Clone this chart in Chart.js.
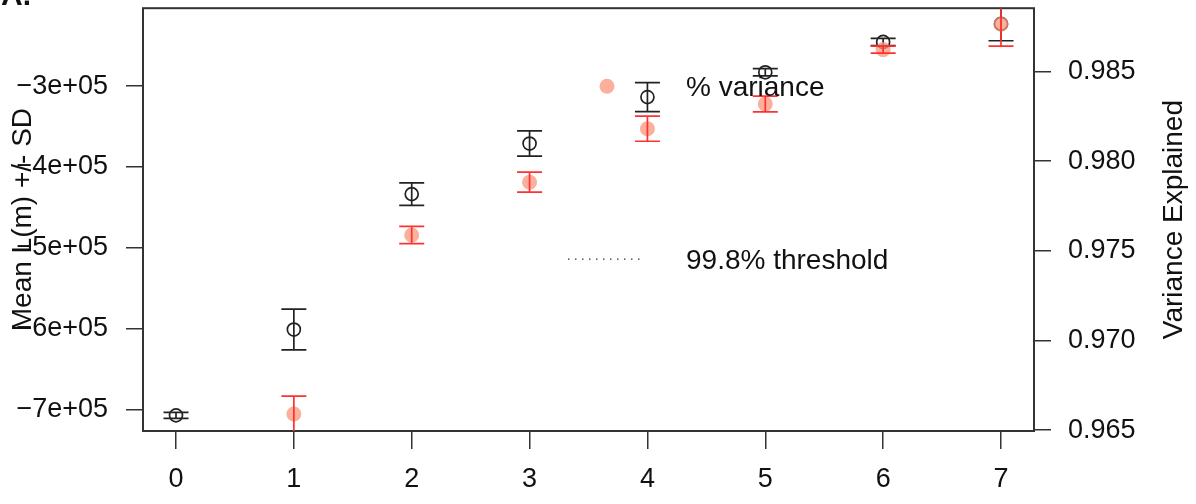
<!DOCTYPE html>
<html>
<head>
<meta charset="utf-8">
<script src="https://cdn.jsdelivr.net/npm/chart.js@4/dist/chart.umd.min.js"></script>
<style>
  html, body { margin: 0; padding: 0; background: #fff; }
</style>
</head>
<body>
<canvas id="chart" width="1196" height="504"></canvas>
<script>
// Données
const components = [0, 1, 2, 3, 4, 5, 6, 7];
const meanL = [-707400, -601200, -433600, -371000, -313500, -282800, -245300, -222900];
const sdL = [3700, 25200, 13900, 15600, 18000, 4500, 4500, 20900];
const varExplained = [null, 0.96590, 0.97588, 0.97883, 0.98181, 0.98319, 0.98622, 0.98764];
const sdVar = [null, 0.00100, 0.00048, 0.00056, 0.00070, 0.00044, 0.00020, 0.00122];

const xTicks = [0, 1, 2, 3, 4, 5, 6, 7];
const leftTicks = [-700000, -600000, -500000, -400000, -300000];
const leftTickLabels = ['\u22127e+05', '\u22126e+05', '\u22125e+05', '\u22124e+05', '\u22123e+05'];
const rightTicks = [0.965, 0.970, 0.975, 0.980, 0.985];
const rightTickLabels = ['0.965', '0.970', '0.975', '0.980', '0.985'];

const FONT = "'Liberation Sans', Arial, sans-serif";
const INK = '#222';
const RED_BAR = '#ff3030';
const RED_DOT = 'rgba(248,150,120,0.75)';

// Barres d'erreur dessinées avec les échelles du graphique
function drawErrorBars(chart, ys, sds, axisId, color) {
    const ctx = chart.ctx;
    const xScale = chart.scales.x;
    const yScale = chart.scales[axisId];
    const area = chart.chartArea;
    const cap = 12.5;
    ctx.save();
    ctx.beginPath();
    ctx.rect(area.left, area.top, area.right - area.left, area.bottom - area.top);
    ctx.clip();
    ctx.strokeStyle = color;
    ctx.lineWidth = 1.7;
    components.forEach((c, i) => {
        if (ys[i] === null) return;
        const px = xScale.getPixelForValue(c);
        const top = yScale.getPixelForValue(ys[i] + sds[i]);
        const bot = yScale.getPixelForValue(ys[i] - sds[i]);
        ctx.beginPath();
        ctx.moveTo(px, top); ctx.lineTo(px, bot);
        ctx.moveTo(px - cap, top); ctx.lineTo(px + cap, top);
        ctx.moveTo(px - cap, bot); ctx.lineTo(px + cap, bot);
        ctx.stroke();
    });
    ctx.restore();
}

const rStylePlugin = {
    id: 'rStyle',
    beforeDatasetsDraw(chart) {
        const ctx = chart.ctx;
        const a = chart.chartArea;
        ctx.save();
        ctx.strokeStyle = '#333';
        ctx.lineWidth = 2;
        ctx.strokeRect(a.left, a.top, a.right - a.left, a.bottom - a.top);
        ctx.restore();
    },
    afterDatasetDraw(chart, args) {
        if (args.meta.yAxisID === 'y') {
            drawErrorBars(chart, meanL, sdL, 'y', INK);
        } else {
            drawErrorBars(chart, varExplained, sdVar, 'y1', RED_BAR);
        }
    },
    afterDraw(chart) {
        const ctx = chart.ctx;
        const a = chart.chartArea;
        ctx.save();
        ctx.fillStyle = '#111';

        // Titre de l'axe droit (lu de bas en haut, comme R)
        ctx.font = '28px ' + FONT;
        ctx.textAlign = 'center';
        ctx.textBaseline = 'middle';
        ctx.translate(1174, (a.top + a.bottom) / 2);
        ctx.rotate(-Math.PI / 2);
        ctx.fillText('Variance Explained', 0, 0);
        ctx.setTransform(1, 0, 0, 1, 0, 0);

        // Étiquette du panneau
        ctx.font = 'bold 30px ' + FONT;
        ctx.textAlign = 'left';
        ctx.textBaseline = 'alphabetic';
        ctx.fillText('A.', 1, 5);

        // Légende sans cadre
        ctx.font = '28px ' + FONT;
        ctx.textBaseline = 'middle';
        ctx.fillStyle = RED_DOT;
        ctx.beginPath();
        ctx.arc(a.left + 464, a.top + 78, 7.5, 0, Math.PI * 2);
        ctx.fill();
        ctx.fillStyle = '#111';
        ctx.fillText('% variance', a.left + 543, a.top + 80);

        ctx.strokeStyle = '#333';
        ctx.lineWidth = 1.3;
        ctx.setLineDash([1.5, 5.5]);
        ctx.beginPath();
        ctx.moveTo(a.left + 425, a.top + 251);
        ctx.lineTo(a.left + 500, a.top + 251);
        ctx.stroke();
        ctx.setLineDash([]);
        ctx.fillText('99.8% threshold', a.left + 543, a.top + 253);
        ctx.restore();
    }
};

function setTicks(values) {
    return (scale) => { scale.ticks = values.map(v => ({ value: v })); };
}

// Taille fixe des axes, sans marge ajoutée pour les étiquettes
function fixWidth(w) {
    return (s) => { s.width = w; s.paddingTop = 0; s.paddingBottom = 0; };
}

const tickFont = { family: FONT, size: 27 };

const chart = new Chart(document.getElementById('chart'), {
    type: 'scatter',
    data: {
        datasets: [
            {
                label: 'Mean L(m)',
                data: components.map((c, i) => ({ x: c, y: meanL[i] })),
                yAxisID: 'y',
                order: 2,
                pointStyle: 'circle',
                pointRadius: 6.5,
                pointBorderWidth: 1.7,
                pointBorderColor: INK,
                pointBackgroundColor: 'rgba(0,0,0,0)'
            },
            {
                label: '% variance',
                data: components.map((c, i) => ({ x: c, y: varExplained[i] })),
                yAxisID: 'y1',
                order: 1,
                pointStyle: 'circle',
                pointRadius: 7.5,
                pointBorderWidth: 0,
                pointBackgroundColor: RED_DOT
            }
        ]
    },
    options: {
        responsive: false,
        animation: false,
        layout: { padding: { top: 6, left: 0, right: 0, bottom: 0 } },
        plugins: { legend: { display: false }, tooltip: { enabled: false } },
        scales: {
            x: {
                type: 'linear',
                min: -0.28,
                max: 7.28,
                afterBuildTicks: setTicks(xTicks),
                afterFit: (s) => { s.height = 73; s.paddingLeft = 0; s.paddingRight = 0; },
                border: { display: false },
                grid: { drawOnChartArea: false, tickLength: 18, color: '#333', lineWidth: 1.5 },
                ticks: { font: tickFont, color: '#111', padding: 14, maxRotation: 0, callback: (v) => String(v) }
            },
            y: {
                type: 'linear',
                position: 'left',
                min: -726760,
                max: -203500,
                afterBuildTicks: setTicks(leftTicks),
                afterFit: fixWidth(143),
                border: { display: false },
                grid: { drawOnChartArea: false, tickLength: 17, color: '#333', lineWidth: 1.5 },
                ticks: {
                    font: tickFont, color: '#111', padding: 18,
                    callback: (v) => leftTickLabels[leftTicks.indexOf(v)]
                },
                title: {
                    display: true,
                    text: 'Mean L(m) +/- SD',
                    font: { family: FONT, size: 28 },
                    color: '#111',
                    padding: { top: 6, bottom: 0 }
                }
            },
            y1: {
                type: 'linear',
                position: 'right',
                min: 0.96495,
                max: 0.98853,
                afterBuildTicks: setTicks(rightTicks),
                afterFit: fixWidth(162),
                border: { display: false },
                grid: { drawOnChartArea: false, tickLength: 17, color: '#333', lineWidth: 1.5 },
                ticks: {
                    font: tickFont, color: '#111', padding: 17,
                    callback: (v) => rightTickLabels[rightTicks.indexOf(v)]
                }
            }
        }
    },
    plugins: [rStylePlugin]
});
</script>
</body>
</html>
